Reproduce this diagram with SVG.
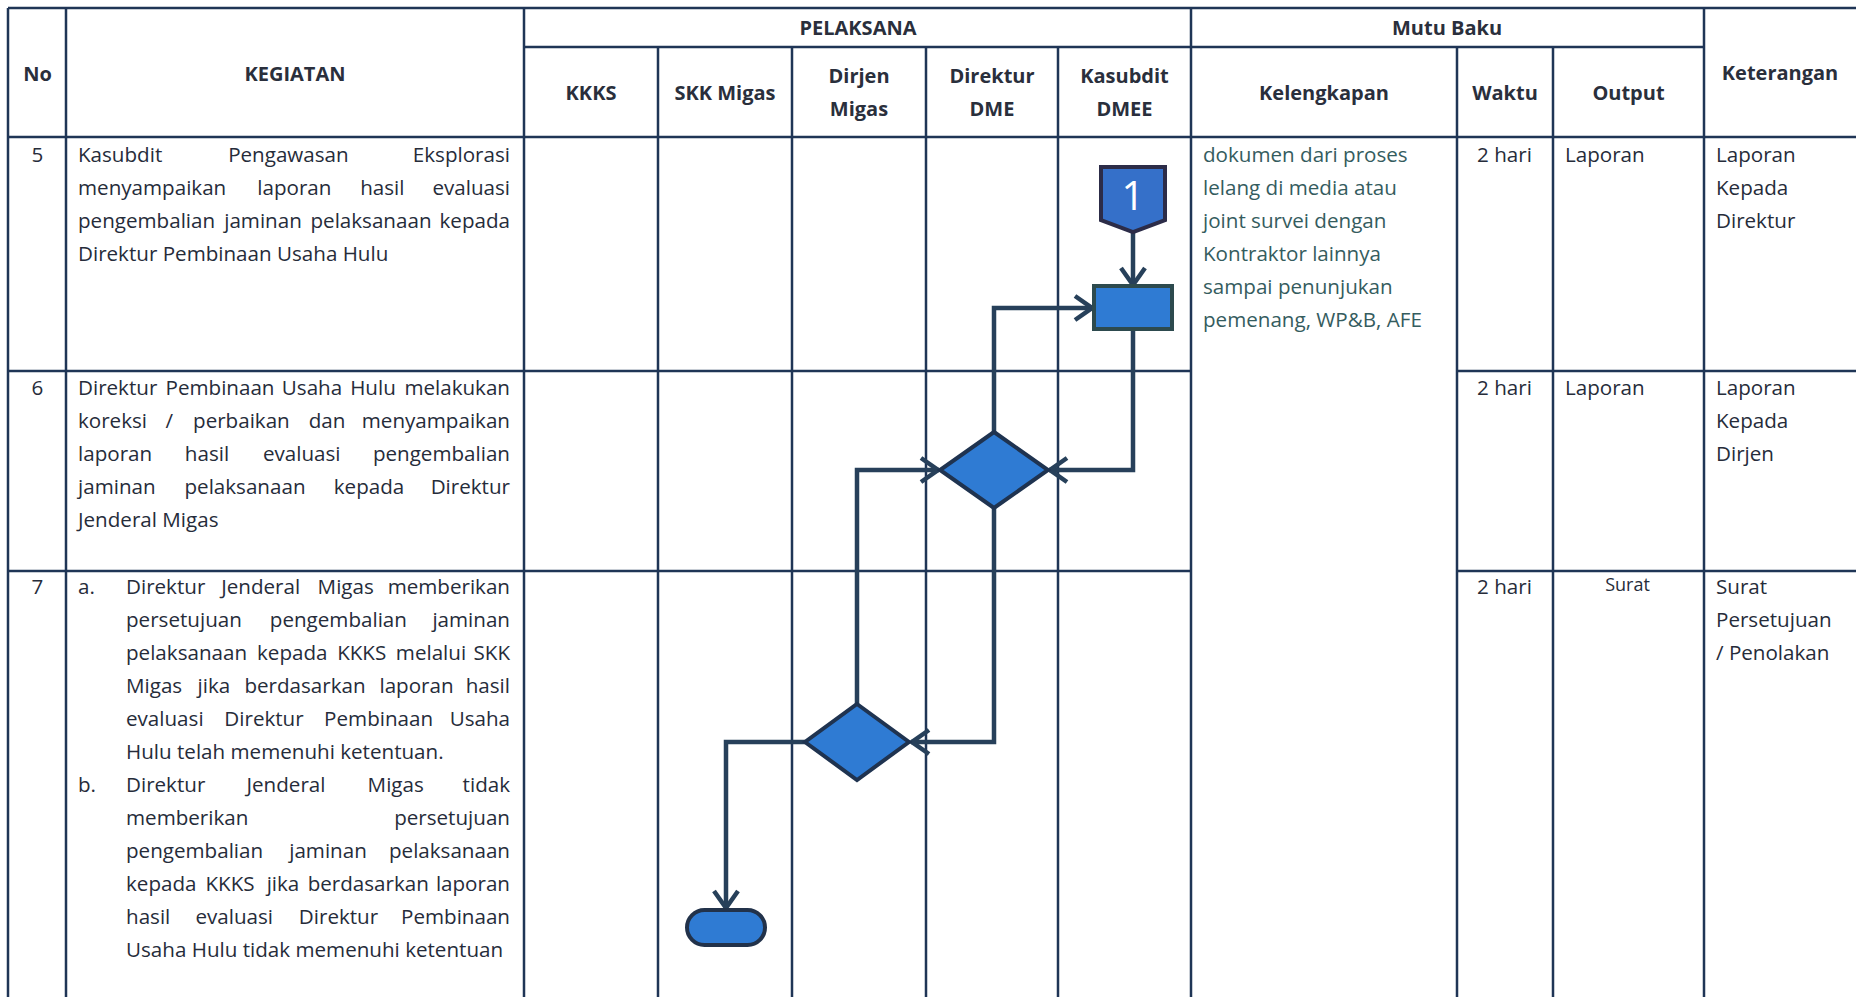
<svg xmlns="http://www.w3.org/2000/svg" width="1856" height="997" viewBox="0 0 1856 997">
<style>
.grid line{stroke:#1f3556;stroke-width:2.5}
.h{font-family:"Open Sans","Noto Sans",sans-serif;font-weight:bold;font-size:20px;fill:#2a2f3c;text-anchor:middle}
.t{font-family:"Open Sans","Noto Sans",sans-serif;font-size:20.6px;fill:#262c3a}
.k{fill:#355c5e}
.m{text-anchor:middle}
.e{text-anchor:end}
.c{text-anchor:middle}
.shape{fill:#2f7bd3;stroke-width:4}
.conn path{fill:none;stroke:#27405a;stroke-width:4.5;stroke-linejoin:miter}
</style>
<defs>
<marker id="arr" viewBox="0 0 22 28" refX="20" refY="14" markerWidth="22" markerHeight="28" markerUnits="userSpaceOnUse" orient="auto">
<path d="M2,2 L19,14 L2,26" fill="none" stroke="#27405a" stroke-width="4.5"/>
</marker>
</defs>
<rect width="1856" height="997" fill="#ffffff"/>
<g class="grid">
<line x1="8" y1="8" x2="1856" y2="8"/>
<line x1="524" y1="47" x2="1704" y2="47"/>
<line x1="8" y1="137" x2="1856" y2="137"/>
<line x1="8" y1="371" x2="1191" y2="371"/>
<line x1="1457" y1="371" x2="1856" y2="371"/>
<line x1="8" y1="571" x2="1191" y2="571"/>
<line x1="1457" y1="571" x2="1856" y2="571"/>
<line x1="8" y1="8" x2="8" y2="997"/>
<line x1="66" y1="8" x2="66" y2="997"/>
<line x1="524" y1="8" x2="524" y2="997"/>
<line x1="658" y1="47" x2="658" y2="997"/>
<line x1="792" y1="47" x2="792" y2="997"/>
<line x1="926" y1="47" x2="926" y2="997"/>
<line x1="1058" y1="47" x2="1058" y2="997"/>
<line x1="1191" y1="8" x2="1191" y2="997"/>
<line x1="1457" y1="47" x2="1457" y2="997"/>
<line x1="1553" y1="47" x2="1553" y2="997"/>
<line x1="1704" y1="8" x2="1704" y2="997"/>
</g>
<g id="headers">
<text class="h" x="37.5" y="81">No</text>
<text class="h" x="295" y="81">KEGIATAN</text>
<text class="h" x="858" y="35">PELAKSANA</text>
<text class="h" x="1447" y="35">Mutu Baku</text>
<text class="h" x="591" y="100">KKKS</text>
<text class="h" x="725" y="100">SKK Migas</text>
<text class="h" x="859" y="83">Dirjen</text>
<text class="h" x="859" y="116">Migas</text>
<text class="h" x="992" y="83" fill="#1f2d5c">Direktur</text>
<text class="h" x="992" y="116">DME</text>
<text class="h" x="1124.5" y="83" fill="#1f2d5c">Kasubdit</text>
<text class="h" x="1124.5" y="116">DMEE</text>
<text class="h" x="1324" y="100">Kelengkapan</text>
<text class="h" x="1505" y="100">Waktu</text>
<text class="h" x="1628.5" y="100">Output</text>
<text class="h" x="1780" y="80">Keterangan</text>
</g>
<g id="row5">
<text class="t c" x="37.5" y="162">5</text>
<text class="t" y="162"><tspan x="78">Kasubdit</tspan><tspan class="m" x="288.4">Pengawasan</tspan><tspan class="e" x="510">Eksplorasi</tspan></text>
<text class="t" y="195"><tspan x="78">menyampaikan</tspan><tspan class="m" x="294.4">laporan</tspan><tspan class="m" x="382.3">hasil</tspan><tspan class="e" x="510">evaluasi</tspan></text>
<text class="t" y="228"><tspan x="78">pengembalian</tspan><tspan class="m" x="263">jaminan</tspan><tspan class="m" x="371">pelaksanaan</tspan><tspan class="e" x="510">kepada</tspan></text>
<text class="t" x="78" y="261">Direktur Pembinaan Usaha Hulu</text>
<text class="t k" x="1203" y="162">dokumen dari proses</text>
<text class="t k" x="1203" y="195">lelang di media atau</text>
<text class="t k" x="1203" y="228">joint survei dengan</text>
<text class="t k" x="1203" y="261">Kontraktor lainnya</text>
<text class="t k" x="1203" y="294">sampai penunjukan</text>
<text class="t k" x="1203" y="327">pemenang, WP&amp;B, AFE</text>
<text class="t c" x="1504.5" y="162">2 hari</text>
<text class="t" x="1565" y="162">Laporan</text>
<text class="t" x="1716" y="162">Laporan</text>
<text class="t" x="1716" y="195">Kepada</text>
<text class="t" x="1716" y="228">Direktur</text>
</g>
<g id="row6">
<text class="t c" x="37.5" y="395">6</text>
<text class="t" y="395"><tspan x="78">Direktur</tspan><tspan class="m" x="220">Pembinaan</tspan><tspan class="m" x="312">Usaha</tspan><tspan class="m" x="373">Hulu</tspan><tspan class="e" x="510">melakukan</tspan></text>
<text class="t" y="428"><tspan x="78">koreksi</tspan><tspan class="m" x="169.3">/</tspan><tspan class="m" x="241.4">perbaikan</tspan><tspan class="m" x="327">dan</tspan><tspan class="e" x="510">menyampaikan</tspan></text>
<text class="t" y="461"><tspan x="78">laporan</tspan><tspan class="m" x="207">hasil</tspan><tspan class="m" x="301.7">evaluasi</tspan><tspan class="e" x="510">pengembalian</tspan></text>
<text class="t" y="494"><tspan x="78">jaminan</tspan><tspan class="m" x="245">pelaksanaan</tspan><tspan class="m" x="369">kepada</tspan><tspan class="e" x="510">Direktur</tspan></text>
<text class="t" x="78" y="527">Jenderal Migas</text>
<text class="t c" x="1504.5" y="395">2 hari</text>
<text class="t" x="1565" y="395">Laporan</text>
<text class="t" x="1716" y="395">Laporan</text>
<text class="t" x="1716" y="428">Kepada</text>
<text class="t" x="1716" y="461">Dirjen</text>
</g>
<g id="row7">
<text class="t c" x="37.5" y="594">7</text>
<text class="t" x="78" y="594">a.</text>
<text class="t" y="594"><tspan x="126">Direktur</tspan><tspan class="m" x="260.7">Jenderal</tspan><tspan class="m" x="345.7">Migas</tspan><tspan class="e" x="510">memberikan</tspan></text>
<text class="t" y="627"><tspan x="126">persetujuan</tspan><tspan class="m" x="338.4">pengembalian</tspan><tspan class="e" x="510">jaminan</tspan></text>
<text class="t" y="660"><tspan x="126">pelaksanaan</tspan><tspan class="m" x="292.3">kepada</tspan><tspan class="m" x="361.7">KKKS</tspan><tspan class="m" x="431">melalui</tspan><tspan class="e" x="510">SKK</tspan></text>
<text class="t" y="693"><tspan x="126">Migas</tspan><tspan class="m" x="213.9">jika</tspan><tspan class="m" x="305">berdasarkan</tspan><tspan class="m" x="416.5">laporan</tspan><tspan class="e" x="510">hasil</tspan></text>
<text class="t" y="726"><tspan x="126">evaluasi</tspan><tspan class="m" x="264">Direktur</tspan><tspan class="m" x="378.6">Pembinaan</tspan><tspan class="e" x="510">Usaha</tspan></text>
<text class="t" x="126" y="759">Hulu telah memenuhi ketentuan.</text>
<text class="t" x="78" y="792">b.</text>
<text class="t" y="792"><tspan x="126">Direktur</tspan><tspan class="m" x="286">Jenderal</tspan><tspan class="m" x="395.7">Migas</tspan><tspan class="e" x="510">tidak</tspan></text>
<text class="t" y="825"><tspan x="126">memberikan</tspan><tspan class="e" x="510">persetujuan</tspan></text>
<text class="t" y="858"><tspan x="126">pengembalian</tspan><tspan class="m" x="328">jaminan</tspan><tspan class="e" x="510">pelaksanaan</tspan></text>
<text class="t" y="891"><tspan x="126">kepada</tspan><tspan class="m" x="230">KKKS</tspan><tspan class="m" x="283">jika</tspan><tspan class="m" x="368.3">berdasarkan</tspan><tspan class="e" x="510">laporan</tspan></text>
<text class="t" y="924"><tspan x="126">hasil</tspan><tspan class="m" x="234.2">evaluasi</tspan><tspan class="m" x="338.5">Direktur</tspan><tspan class="e" x="510">Pembinaan</tspan></text>
<text class="t" x="126" y="957">Usaha Hulu tidak memenuhi ketentuan</text>
<text class="t c" x="1504.5" y="594">2 hari</text>
<text class="t c" x="1627.5" y="591" style="font-size:18px">Surat</text>
<text class="t" x="1716" y="594">Surat</text>
<text class="t" x="1716" y="627">Persetujuan</text>
<text class="t" x="1716" y="660">/ Penolakan</text>
</g>
<g class="conn" id="connectors">
<path d="M1133,232 L1133,286" marker-end="url(#arr)"/>
<path d="M1133,329 L1133,470 L1049,470" marker-end="url(#arr)"/>
<path d="M994,432 L994,308 L1093,308" marker-end="url(#arr)"/>
<path d="M994,508 L994,742 L911,742" marker-end="url(#arr)"/>
<path d="M857,704 L857,470 L939,470" marker-end="url(#arr)"/>
<path d="M805,742 L726,742 L726,909" marker-end="url(#arr)"/>
</g>
<g id="connector-1">
<path class="shape" d="M1101,167 L1165,167 L1165,220 L1133,232 L1101,220 Z" stroke="#2c2c48" style="fill:#3570c9"/>
<text x="1133" y="210" text-anchor="middle" font-family="'Open Sans','Noto Sans',sans-serif" font-size="40" fill="#ffffff">1</text>
</g>
<g id="process">
<rect class="shape" x="1094" y="286" width="78" height="43" stroke="#2d4a4e"/>
</g>
<g id="decision1">
<path class="shape" d="M994,432 L1048,470 L994,508 L940,470 Z" stroke="#1f3350"/>
</g>
<g id="decision2">
<path class="shape" d="M857,704 L909,742 L857,780 L805,742 Z" stroke="#1f3350"/>
</g>
<g id="terminator">
<rect class="shape" x="687" y="910" width="78" height="35" rx="17.5" stroke="#22324a"/>
</g>
</svg>
